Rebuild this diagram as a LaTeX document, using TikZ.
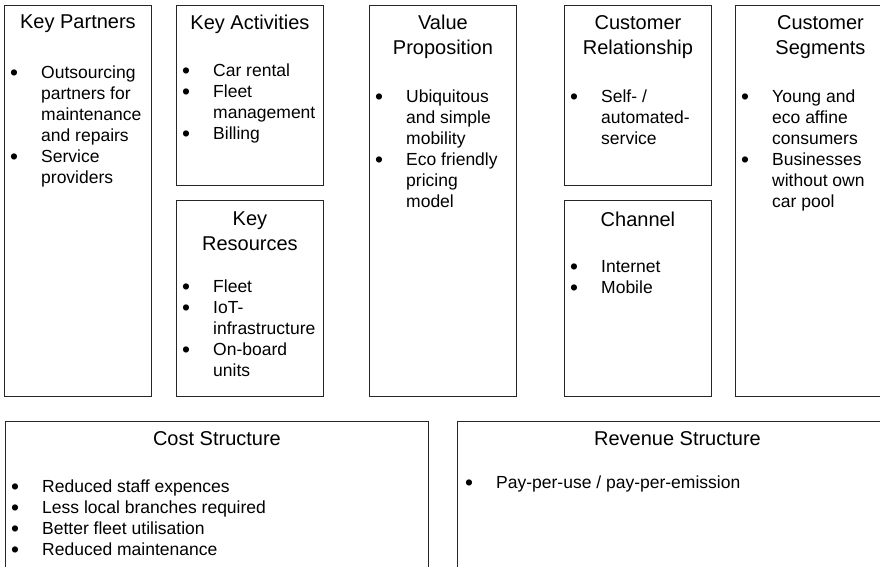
\documentclass[tikz,border=0pt]{standalone}
\usepackage{fontspec}
\setmainfont{Liberation Sans}
\usepackage{graphicx}
\usepackage{array}
\usetikzlibrary{positioning}

\newcommand{\bul}{\raisebox{-1.8pt}{\scalebox{1.3}{\textbullet}}}

\begin{document}
\begin{tikzpicture}[
      x=1pt, y=-1pt,
      box/.style={
        draw=black!85,
        line width=0.9pt,
        anchor=north west,
        inner sep=0pt,
        minimum width=147pt
      },
      head/.style={align=center, inner sep=0pt, anchor=north,
        font=\fontsize{20}{25}\selectfont},
      body/.style={align=left, inner sep=0pt,
        font=\fontsize{17.5}{21}\selectfont}
    ]
    \useasboundingbox (0,0) rectangle (880,566);
    \clip (0,0) rectangle (880,566);

    % top row
    \node[box, minimum height=391pt] (kp) at (4,5) {};
    \node[box, minimum height=180pt] (ka) at (176,5) {};
    \node[box, minimum height=196pt] (kr) at (176,200) {};
    \node[box, minimum height=391pt] (vp) at (369,5) {};
    \node[box, minimum height=180pt] (cr) at (564,5) {};
    \node[box, minimum height=196pt] (ch) at (564,200) {};
    \node[box, minimum height=391pt, minimum width=170pt] (cs) at (735,5) {};

    % bottom row
    \node[box, minimum height=170pt, minimum width=423pt] (cost) at (5,421) {};
    \node[box, minimum height=170pt, minimum width=440pt] (rev) at (457,421) {};

    % titles
    \node[head, below=10pt of kp.north] (kp-t) {Key Partners};
    \node[head, below=10pt of ka.north] (ka-t) {Key Activities};
    \node[head, below=12pt of kr.north] (kr-t) {Key\\Resources};
    \node[head, below=10pt of vp.north] (vp-t) {Value\\Proposition};
    \node[head, below=10pt of cr.north] (cr-t) {Customer\\Relationship};
    \node[head, below=12pt of ch.north] (ch-t) {Channel};
    \node[head, below=10pt of cs.north] (cs-t) {Customer\\Segments};
    \node[head, below=10pt of cost.north] (cost-t) {Cost Structure};
    \node[head, below=10pt of rev.north] (rev-t) {Revenue Structure};

    % bullet lists
    \node[body, below right=59pt and 6pt of kp.north west] (kp-b) {%
      \begin{tabular}[t]{@{}p{31pt}@{}l@{}}
        \bul & Outsourcing\\ & partners for\\ & maintenance\\
        & and repairs\\ \bul & Service\\ & providers
      \end{tabular}};
    \node[body, below right=57pt and 6pt of ka.north west] (ka-b) {%
      \begin{tabular}[t]{@{}p{31pt}@{}l@{}}
        \bul & Car rental\\ \bul & Fleet\\ & management\\
        \bul & Billing
      \end{tabular}};
    \node[body, below right=78pt and 6pt of kr.north west] (kr-b) {%
      \begin{tabular}[t]{@{}p{31pt}@{}l@{}}
        \bul & Fleet\\ \bul & IoT-\\ & infrastructure\\
        \bul & On-board\\ & units
      \end{tabular}};
    \node[body, below right=83pt and 6pt of vp.north west] (vp-b) {%
      \begin{tabular}[t]{@{}p{31pt}@{}l@{}}
        \bul & Ubiquitous\\ & and simple\\ & mobility\\
        \bul & Eco friendly\\ & pricing\\ & model
      \end{tabular}};
    \node[body, below right=83pt and 6pt of cr.north west] (cr-b) {%
      \begin{tabular}[t]{@{}p{31pt}@{}l@{}}
        \bul & Self- /\\ & automated-\\ & service
      \end{tabular}};
    \node[body, below right=58pt and 6pt of ch.north west] (ch-b) {%
      \begin{tabular}[t]{@{}p{31pt}@{}l@{}}
        \bul & Internet\\ \bul & Mobile
      \end{tabular}};
    \node[body, below right=83pt and 6pt of cs.north west] (cs-b) {%
      \begin{tabular}[t]{@{}p{31pt}@{}l@{}}
        \bul & Young and\\ & eco affine\\ & consumers\\
        \bul & Businesses\\ & without own\\ & car pool
      \end{tabular}};
    \node[body, below right=57pt and 6pt of cost.north west] (cost-b) {%
      \begin{tabular}[t]{@{}p{31pt}@{}l@{}}
        \bul & Reduced staff expences\\
        \bul & Less local branches required\\
        \bul & Better fleet utilisation\\
        \bul & Reduced maintenance
      \end{tabular}};
    \node[body, below right=53pt and 8pt of rev.north west] (rev-b) {%
      \begin{tabular}[t]{@{}p{31pt}@{}l@{}}
        \bul & Pay-per-use / pay-per-emission
      \end{tabular}};
  \end{tikzpicture}
\end{document}
